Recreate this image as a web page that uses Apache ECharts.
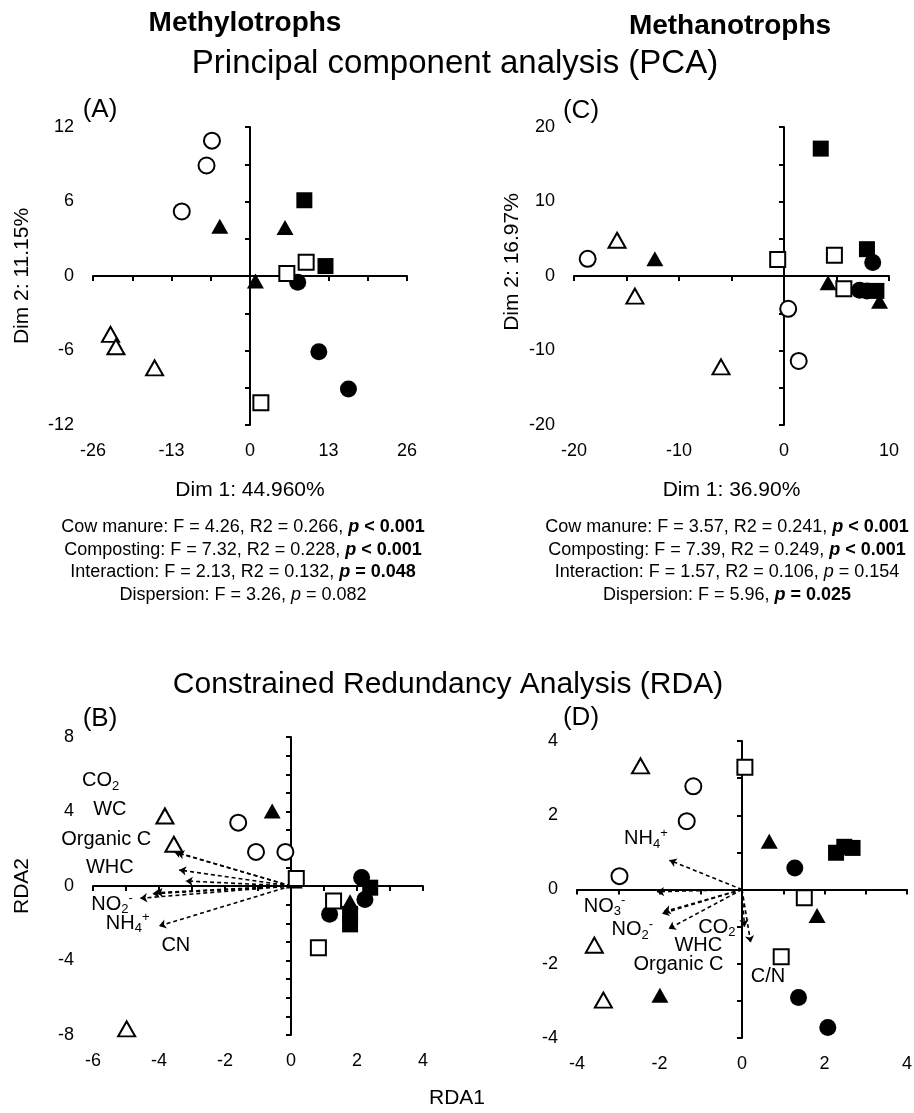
<!DOCTYPE html>
<html>
<head>
<meta charset="utf-8">
<title>PCA and RDA of methylotrophs and methanotrophs</title>
<script src="https://cdn.jsdelivr.net/npm/echarts@6.0.0/dist/echarts.min.js"></script>
<style>
  html, body { margin: 0; padding: 0; background: #fff; }
  #main { width: 914px; height: 1113px; }
</style>
</head>
<body>
<div id="main"></div>
<script>
// (A) PCA - methylotrophs
const A_openCircle = [[-6.3, 10.9], [-7.2, 8.9], [-11.3, 5.2]];
const A_fillCircle = [[7.9, -0.5], [11.4, -6.1], [16.3, -9.1]];
const A_openTri = [[-23.1, -4.7], [-22.2, -5.7], [-15.8, -7.4]];
const A_fillTri = [[-5.0, 4.0], [5.8, 3.9], [0.9, -0.4]];
const A_openSq = [[9.3, 1.1], [6.1, 0.2], [1.8, -10.2]];
const A_fillSq = [[9.0, 6.1], [12.5, 0.8]];

// (C) PCA - methanotrophs
const C_openCircle = [[-18.7, 2.3], [0.4, -4.4], [1.4, -11.4]];
const C_fillCircle = [[8.45, 1.8], [7.2, -1.9], [7.9, -2.0]];
const C_openTri = [[-15.9, 4.8], [-14.2, -2.7], [-6.0, -12.2]];
const C_fillTri = [[-12.3, 2.3], [4.2, -0.9], [9.1, -3.4]];
const C_openSq = [[-0.6, 2.2], [4.8, 2.8], [5.7, -1.7]];
const C_fillSq = [[3.5, 17.1], [7.9, 3.6], [8.8, -2.0]];

// (B) RDA - methylotrophs
const B_openCircle = [[-1.6, 3.4], [-1.06, 1.83], [-0.17, 1.83]];
const B_fillCircle = [[2.14, 0.45], [2.24, -0.72], [1.17, -1.52]];
const B_openTri = [[-3.82, 3.76], [-3.55, 2.24], [-4.98, -7.67]];
const B_fillTri = [[-0.57, 4.03], [0.1, 0.27], [1.79, -0.85]];
const B_openSq = [[0.16, 0.4], [1.29, -0.81], [0.83, -3.31]];
const B_fillSq = [[2.4, -0.09], [1.79, -1.5], [1.79, -2.06]];
const B_arrows = [[-3.55, 1.85], [-3.45, 1.78], [-3.39, 0.86], [-3.19, 0.27], [-4.2, -0.42], [-4.1, -0.36], [-4.57, -0.66], [-4.0, -2.15]];
const B_vars = ['CO2', 'WC', 'Organic C', 'WHC', 'NO2-', 'NH4+', 'CN'];
const B_varPos = [[-5.77, 5.65], [-5.49, 4.09], [-5.6, 2.51], [-5.49, 0.99], [-5.42, -0.98], [-4.95, -2.0], [-3.49, -3.19]];

// (D) RDA - methanotrophs
const D_openCircle = [[-1.18, 2.78], [-1.34, 1.84], [-2.97, 0.36]];
const D_fillCircle = [[1.28, 0.58], [1.37, -2.91], [2.08, -3.72]];
const D_openTri = [[-2.46, 3.33], [-3.58, -1.5], [-3.36, -2.98]];
const D_fillTri = [[0.66, 1.3], [1.82, -0.7], [-1.99, -2.85]];
const D_openSq = [[0.07, 3.29], [1.51, -0.22], [0.95, -1.81]];
const D_fillSq = [[2.28, 0.99], [2.48, 1.15], [2.68, 1.12]];
const D_arrows = [[-1.76, 0.79], [-2.06, -0.06], [-1.9, -0.6], [-1.94, -0.65], [-1.78, -1.06], [0.06, -1.0], [0.21, -1.43]];
const D_vars = ['NH4+', 'NO3-', 'NO2-', 'CO2', 'WHC', 'Organic C', 'C/N'];
const D_varPos = [[-2.33, 1.37], [-3.33, -0.45], [-2.66, -1.08], [-0.61, -1.02], [-1.06, -1.52], [-1.54, -2.02], [0.63, -2.35]];

// PERMANOVA text under the PCA panels
const statsMethylo = [
  '{n|Cow manure: F = 4.26, R2 = 0.266, }{bi|p}{b| < 0.001}',
  '{n|Composting: F = 7.32, R2 = 0.228, }{bi|p}{b| < 0.001}',
  '{n|Interaction: F = 2.13, R2 = 0.132, }{bi|p}{b| = 0.048}',
  '{n|Dispersion: F = 3.26, }{i|p}{n| = 0.082}'
];
const statsMethano = [
  '{n|Cow manure: F = 3.57, R2 = 0.241, }{bi|p}{b| < 0.001}',
  '{n|Composting: F = 7.39, R2 = 0.249, }{bi|p}{b| < 0.001}',
  '{n|Interaction: F = 1.57, R2 = 0.106, }{i|p}{n| = 0.154}',
  '{n|Dispersion: F = 5.96, }{bi|p}{b| = 0.025}'
];

const FONT = '"Liberation Sans", Arial, Helvetica, sans-serif';

// open circle, filled circle, open triangle, filled triangle, open square, filled square
const markers = [
  { symbol: 'circle', size: 16, open: true },
  { symbol: 'circle', size: 17, open: false },
  { symbol: 'triangle', size: [17, 15], open: true },
  { symbol: 'triangle', size: [17, 15], open: false },
  { symbol: 'rect', size: 15, open: true },
  { symbol: 'rect', size: 16, open: false }
];

// x / y: [min, max, label interval, tick interval]
const panels = [
  { grid: { left: 93, top: 127, width: 314, height: 298 }, x: [-26, 26, 13, 6.5], y: [-12, 12, 6, 3],
    xName: 'Dim 1: 44.960%', yName: 'Dim 2: 11.15%',
    groups: [A_openCircle, A_fillCircle, A_openTri, A_fillTri, A_openSq, A_fillSq] },
  { grid: { left: 574, top: 127, width: 315, height: 298 }, x: [-20, 10, 10, 5], y: [-20, 20, 10, 5],
    xName: 'Dim 1: 36.90%', yName: '',
    groups: [C_openCircle, C_fillCircle, C_openTri, C_fillTri, C_openSq, C_fillSq] },
  { grid: { left: 93, top: 737, width: 330, height: 298 }, x: [-6, 4, 2, 1], y: [-8, 8, 4, 1],
    xName: '', yName: 'RDA2',
    groups: [B_openCircle, B_fillCircle, B_openTri, B_fillTri, B_openSq, B_fillSq],
    arrows: B_arrows, vars: B_vars, varPos: B_varPos },
  { grid: { left: 577, top: 741, width: 330, height: 297 }, x: [-4, 4, 2, 1], y: [-4, 4, 2, 1],
    xName: '', yName: '',
    groups: [D_openCircle, D_fillCircle, D_openTri, D_fillTri, D_openSq, D_fillSq],
    arrows: D_arrows, vars: D_vars, varPos: D_varPos }
];

// CO2 -> CO{sub|2}, NH4+ -> NH{sub|4}{sup|+}
function chem(s) {
  const m = s.match(/^([A-Za-z]+)(\d)([+-]?)$/);
  if (!m) return '{t|' + s + '}';
  return '{t|' + m[1] + '}{sub|' + m[2] + '}' + (m[3] ? '{sup|' + m[3] + '}' : '');
}

const grids = [], xAxes = [], yAxes = [], series = [];
const black = '#000';

panels.forEach(function (p, i) {
  grids.push(Object.assign({ outerBoundsMode: 'none', containLabel: false }, p.grid));

  // axes on the frame edge: only tick labels and names
  xAxes.push({
    gridIndex: i, type: 'value', position: 'bottom', min: p.x[0], max: p.x[1], interval: p.x[2],
    axisLine: { show: false, onZero: false }, axisTick: { show: false }, splitLine: { show: false },
    axisLabel: { fontSize: 18, color: black, margin: 17 },
    name: p.xName, nameLocation: 'middle', nameGap: 55,
    nameTextStyle: { fontSize: 21, color: black }
  });
  // axes through the origin: line and ticks
  xAxes.push({
    gridIndex: i, type: 'value', position: 'bottom', min: p.x[0], max: p.x[1], interval: p.x[3],
    axisLine: { onZero: true, lineStyle: { color: black, width: 2 } },
    axisTick: { length: 5, lineStyle: { color: black, width: 2 } },
    axisLabel: { show: false }, splitLine: { show: false }
  });
  yAxes.push({
    gridIndex: i, type: 'value', position: 'left', min: p.y[0], max: p.y[1], interval: p.y[2],
    axisLine: { show: false, onZero: false }, axisTick: { show: false }, splitLine: { show: false },
    axisLabel: { fontSize: 18, color: black, margin: 19 },
    name: p.yName, nameLocation: 'middle', nameGap: 60,
    nameTextStyle: { fontSize: 21, color: black }
  });
  yAxes.push({
    gridIndex: i, type: 'value', position: 'left', min: p.y[0], max: p.y[1], interval: p.y[3],
    axisLine: { onZero: true, lineStyle: { color: black, width: 2 } },
    axisTick: { length: 5, lineStyle: { color: black, width: 2 } },
    axisLabel: { show: false }, splitLine: { show: false }
  });

  const xi = i * 2, yi = i * 2;

  p.groups.forEach(function (data, g) {
    const mk = markers[g];
    series.push({
      type: 'scatter', xAxisIndex: xi, yAxisIndex: yi, data: data,
      symbol: mk.symbol, symbolSize: mk.size, silent: true,
      itemStyle: mk.open
        ? { color: '#fff', borderColor: black, borderWidth: 2, opacity: 1 }
        : { color: black, opacity: 1 }
    });
  });

  if (p.arrows) {
    series.push({
      type: 'lines', coordinateSystem: 'cartesian2d', xAxisIndex: xi, yAxisIndex: yi, silent: true,
      symbol: ['none', 'arrow'], symbolSize: 7,
      lineStyle: { color: black, width: 1.6, type: [4, 3], opacity: 1, curveness: 0 },
      data: p.arrows.map(function (e) { return { coords: [[0, 0], e] }; })
    });
    // environmental variable names
    series.push({
      type: 'scatter', xAxisIndex: xi, yAxisIndex: yi, silent: true,
      symbolSize: 0.1, itemStyle: { color: 'rgba(0,0,0,0)', opacity: 1 },
      data: p.varPos.map(function (pos, k) { return { value: pos, name: p.vars[k] }; }),
      label: {
        show: true, position: 'inside', color: black, opacity: 1,
        textBorderWidth: 0,
        formatter: function (d) { return chem(d.name); },
        rich: {
          t: { fontSize: 20, color: black, lineHeight: 24 },
          sub: { fontSize: 13, color: black, lineHeight: 12, verticalAlign: 'bottom' },
          sup: { fontSize: 13, color: black, lineHeight: 12, verticalAlign: 'top' }
        }
      }
    });
  }
});

function txt(x, y, text, font, extra) {
  return Object.assign({
    type: 'text', x: x, y: y, silent: true,
    style: { text: text, font: font, fill: black, align: 'center', verticalAlign: 'middle' }
  }, extra || {});
}

const statRich = {
  n: { fontSize: 18, fontFamily: FONT, fill: black },
  b: { fontSize: 18, fontFamily: FONT, fontWeight: 'bold', fill: black },
  i: { fontSize: 18, fontFamily: FONT, fontStyle: 'italic', fill: black },
  bi: { fontSize: 18, fontFamily: FONT, fontWeight: 'bold', fontStyle: 'italic', fill: black }
};

const graphic = [
  txt(245, 23, 'Methylotrophs', 'bold 28px ' + FONT),
  txt(730, 26, 'Methanotrophs', 'bold 28px ' + FONT),
  txt(455, 64, 'Principal component analysis (PCA)', '33px ' + FONT),
  txt(448, 685, 'Constrained Redundancy Analysis (RDA)', '30px ' + FONT),
  txt(100, 110, '(A)', '26px ' + FONT),
  txt(581, 111, '(C)', '26px ' + FONT),
  txt(100, 719, '(B)', '26px ' + FONT),
  txt(581, 718, '(D)', '26px ' + FONT),
  txt(512, 262, 'Dim 2: 16.97%', '21px ' + FONT, { rotation: Math.PI / 2 }),
  txt(457, 1098, 'RDA1', '21px ' + FONT)
];
statsMethylo.forEach(function (s, k) {
  graphic.push({ type: 'text', x: 243, y: 527 + k * 22.7, silent: true,
    style: { text: s, rich: statRich, align: 'center', verticalAlign: 'middle', fill: black } });
});
statsMethano.forEach(function (s, k) {
  graphic.push({ type: 'text', x: 727, y: 527 + k * 22.7, silent: true,
    style: { text: s, rich: statRich, align: 'center', verticalAlign: 'middle', fill: black } });
});

const chart = echarts.init(document.getElementById('main'), null, { renderer: 'canvas' });
chart.setOption({
  backgroundColor: '#fff',
  animation: false,
  textStyle: { fontFamily: FONT, color: black },
  grid: grids,
  xAxis: xAxes,
  yAxis: yAxes,
  series: series,
  graphic: graphic
});
</script>
</body>
</html>
